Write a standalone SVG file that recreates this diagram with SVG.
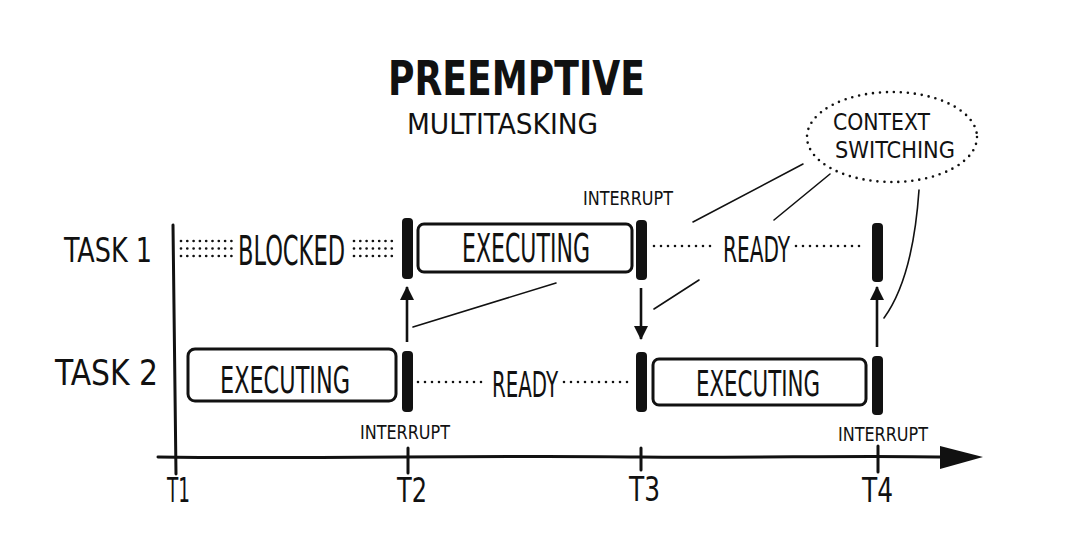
<svg xmlns="http://www.w3.org/2000/svg" width="1080" height="555" viewBox="0 0 1080 555">
  <defs>
    <style>
      .t { font-family: "DejaVu Sans Condensed", "DejaVu Sans", sans-serif; fill: #111; font-stretch: condensed; }
      .box { fill: none; stroke: #111; stroke-width: 3; }
      .bar { fill: #111; }
      .dots { fill: none; stroke: #111; stroke-width: 2.6; stroke-linecap: round; stroke-dasharray: 0 7; }
      .hatch { fill: none; stroke: #111; stroke-width: 2.7; stroke-linecap: round; stroke-dasharray: 0 6.3; }
      .thin { fill: none; stroke: #111; stroke-width: 1.6; stroke-linecap: round; }
      .arrow { fill: none; stroke: #111; stroke-width: 2.6; }
      .axis { fill: none; stroke: #111; stroke-width: 3; stroke-linecap: round; }
    </style>
    <marker id="ah" viewBox="0 0 14 18" refX="13" refY="9" markerWidth="14" markerHeight="18" markerUnits="userSpaceOnUse" orient="auto">
      <path d="M0,2 L14,9 L0,16 Z" fill="#111"/>
    </marker>
  </defs>
  <rect width="1080" height="555" fill="#ffffff"/>

  <g id="title">
    <text class="t" x="388" y="95" font-size="48" font-weight="bold" textLength="257" lengthAdjust="spacingAndGlyphs">PREEMPTIVE</text>
    <text class="t" x="407" y="134" font-size="29" textLength="191" lengthAdjust="spacingAndGlyphs">MULTITASKING</text>
  </g>

  <g id="task-labels">
    <text class="t" x="64" y="262" font-size="33" textLength="88" lengthAdjust="spacingAndGlyphs">TASK 1</text>
    <text class="t" x="55" y="385" font-size="35" textLength="103" lengthAdjust="spacingAndGlyphs">TASK 2</text>
  </g>

  <g id="connectors">
    <!-- axes -->
    <path class="axis" d="M173,225 L176,474"/>
    <path class="axis" d="M158,457 C300,459 500,455 640,457 C760,458 860,455 945,457"/>
    <path d="M940,446 L983,457 L940,469 Z" fill="#111"/>
    <path class="axis" d="M408,448 L408,473"/>
    <path class="axis" d="M641,448 L641,470"/>
    <path class="axis" d="M878,446 L878,472"/>
    <!-- switch arrows -->
    <line class="arrow" x1="407" y1="342" x2="407" y2="287" marker-end="url(#ah)"/>
    <line class="arrow" x1="641" y1="288" x2="641" y2="339" marker-end="url(#ah)"/>
    <line class="arrow" x1="877" y1="347" x2="877" y2="287" marker-end="url(#ah)"/>
    <!-- context switching pointers -->
    <line class="thin" x1="803" y1="164" x2="693" y2="222"/>
    <line class="thin" x1="830" y1="174" x2="774" y2="220"/>
    <path class="thin" d="M919,190 Q913,278 884,318"/>
    <line class="thin" x1="699" y1="280" x2="654" y2="309"/>
    <line class="thin" x1="556" y1="283" x2="413" y2="327"/>
  </g>

  <g id="t1-blocked">
    <path class="hatch" d="M181,241 H232 M181,248.5 H232 M181,256 H232"/>
    <text class="t" x="238" y="265" font-size="41" textLength="107" lengthAdjust="spacingAndGlyphs">BLOCKED</text>
    <path class="hatch" d="M354,241 H398 M354,248.5 H398 M354,256 H398"/>
  </g>

  <g id="t1-executing">
    <rect class="box" x="418" y="224" width="214" height="48" rx="6"/>
    <text class="t" x="462" y="262" font-size="39" textLength="128" lengthAdjust="spacingAndGlyphs">EXECUTING</text>
  </g>

  <g id="t1-ready">
    <line class="dots" x1="654" y1="246" x2="716" y2="246"/>
    <text class="t" x="723" y="262" font-size="35" textLength="67" lengthAdjust="spacingAndGlyphs">READY</text>
    <line class="dots" x1="796" y1="246" x2="866" y2="246"/>
  </g>

  <g id="t2-executing-1">
    <rect class="box" x="188" y="349" width="208" height="52" rx="7"/>
    <text class="t" x="220" y="393" font-size="38" textLength="130" lengthAdjust="spacingAndGlyphs">EXECUTING</text>
  </g>

  <g id="t2-ready">
    <line class="dots" x1="418" y1="382" x2="486" y2="382"/>
    <text class="t" x="492" y="397" font-size="36" textLength="66" lengthAdjust="spacingAndGlyphs">READY</text>
    <line class="dots" x1="564" y1="382" x2="630" y2="382"/>
  </g>

  <g id="t2-executing-2">
    <rect class="box" x="653" y="359" width="213" height="46" rx="6"/>
    <text class="t" x="696" y="396" font-size="36" textLength="124" lengthAdjust="spacingAndGlyphs">EXECUTING</text>
  </g>

  <g id="switch-bars">
    <rect class="bar" x="402" y="218" width="11" height="61" rx="4"/>
    <rect class="bar" x="402" y="351" width="11" height="61" rx="4"/>
    <rect class="bar" x="636" y="220" width="11" height="60" rx="4"/>
    <rect class="bar" x="636" y="352" width="11" height="60" rx="4"/>
    <rect class="bar" x="872" y="223" width="11" height="59" rx="4"/>
    <rect class="bar" x="872" y="356" width="11" height="59" rx="4"/>
  </g>

  <g id="interrupt-labels">
    <text class="t" x="583" y="205" font-size="19" textLength="90" lengthAdjust="spacingAndGlyphs">INTERRUPT</text>
    <text class="t" x="360" y="439" font-size="19" textLength="90" lengthAdjust="spacingAndGlyphs">INTERRUPT</text>
    <text class="t" x="838" y="441" font-size="19" textLength="90" lengthAdjust="spacingAndGlyphs">INTERRUPT</text>
  </g>

  <g id="context-switching">
    <ellipse class="dots" cx="892" cy="137" rx="85" ry="45"/>
    <text class="t" x="833" y="130" font-size="23" textLength="97" lengthAdjust="spacingAndGlyphs">CONTEXT</text>
    <text class="t" x="835" y="158" font-size="23" textLength="120" lengthAdjust="spacingAndGlyphs">SWITCHING</text>
  </g>

  <g id="time-labels">
    <text class="t" x="167" y="502" font-size="33" textLength="23" lengthAdjust="spacingAndGlyphs">T1</text>
    <text class="t" x="397" y="502" font-size="33" textLength="30" lengthAdjust="spacingAndGlyphs">T2</text>
    <text class="t" x="629" y="501" font-size="33" textLength="31" lengthAdjust="spacingAndGlyphs">T3</text>
    <text class="t" x="862" y="502" font-size="33" textLength="31" lengthAdjust="spacingAndGlyphs">T4</text>
  </g>
</svg>
